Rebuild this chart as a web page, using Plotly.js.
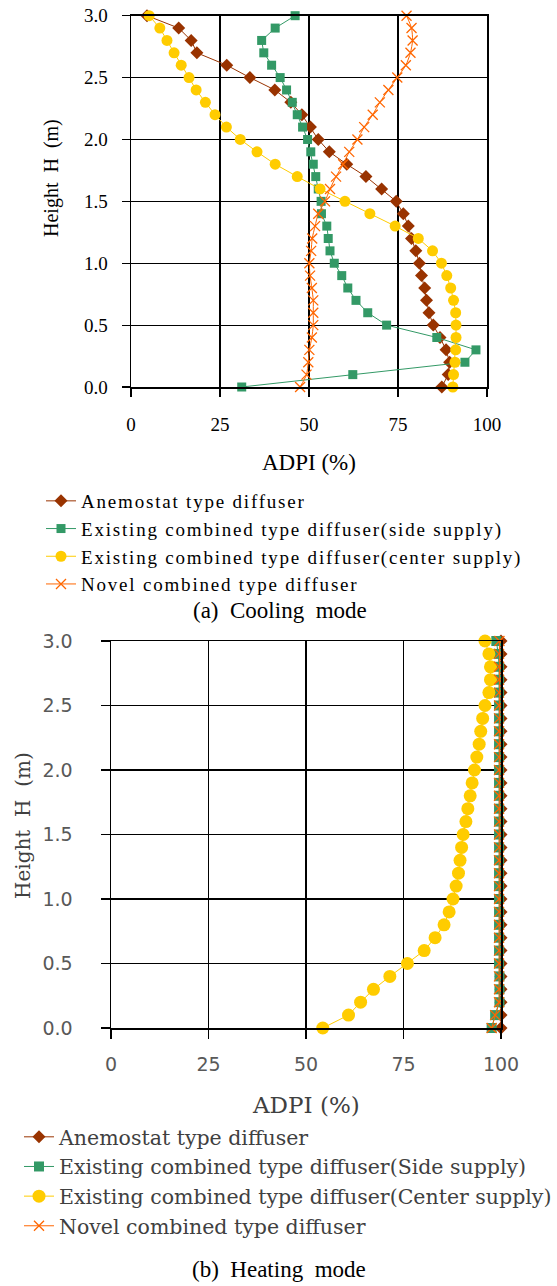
<!DOCTYPE html>
<html>
<head>
<meta charset="utf-8">
<script src="https://cdn.plot.ly/plotly-3.0.1.min.js"></script>
<style>
  html, body { margin: 0; padding: 0; background: #fff; }
  #chart { width: 557px; height: 1286px; }
  .legendtext { letter-spacing: 1.8px; }
</style>
</head>
<body>
<div id="chart"></div>
<script>
// Heights (m), bottom to top
const heights = [0.0,0.1,0.2,0.3,0.4,0.5,0.6,0.7,0.8,0.9,1.0,1.1,1.2,1.3,1.4,1.5,1.6,1.7,1.8,1.9,2.0,2.1,2.2,2.3,2.4,2.5,2.6,2.7,2.8,2.9,3.0];

const seriesNamesA = ["Anemostat type diffuser","Existing combined type diffuser(side supply)","Existing combined type diffuser(center supply)","Novel combined type diffuser"];
const seriesNamesB = ["Anemostat type diffuser","Existing combined type diffuser(Side supply)","Existing combined type diffuser(Center supply)","Novel combined type diffuser"];

// (a) Cooling mode – ADPI (%)
const coolAnemostat = [87.3,89.1,89.5,88.5,86.8,84.9,83.7,83.0,82.5,81.6,81.0,80.0,78.8,77.9,76.5,74.5,70.4,66.0,60.6,55.7,52.6,50.4,48.0,44.9,40.4,33.4,26.9,18.5,16.9,13.4,4.5];
const coolSide      = [31.1,62.3,93.8,96.9,85.9,71.8,66.5,63.2,60.9,59.2,57.1,55.9,55.4,55.0,53.5,53.4,52.6,51.9,51.2,50.5,49.6,48.2,46.7,45.3,43.7,41.9,39.5,37.3,36.7,40.5,46.1];
const coolCenter    = [90.4,90.6,91.0,91.2,91.3,91.3,91.2,90.6,89.8,88.7,87.2,84.7,80.7,74.2,67.1,60.1,53.1,46.7,40.5,35.4,30.7,26.8,23.6,20.9,18.3,16.3,14.1,12.1,10.1,8.1,5.1];
const coolNovel     = [47.5,49.3,49.8,50.1,50.8,51.2,51.2,51.2,50.8,50.3,50.1,50.6,50.9,51.7,52.6,54.5,55.9,57.6,59.6,61.3,63.6,65.5,67.9,69.9,72.3,74.8,77.2,78.5,79.1,78.8,77.4];

// (b) Heating mode – ADPI (%)
const heatAnemostat = [100,100,100,100,100,100,100,100,100,100,100,100,100,100,100,100,100,100,100,100,100,100,100,100,100,100,100,100,100,100,100];
const heatSide      = [97.6,98.5,99.6,99.6,99.6,99.5,99.5,99.5,99.5,99.5,99.5,99.5,99.5,99.5,99.5,99.5,99.5,99.5,99.5,99.5,99.5,99.5,99.5,99.5,99.5,99.5,99.5,99.5,99.5,99.3,98.8];
const heatCenter    = [54.3,60.9,64.0,67.3,71.5,76.0,80.3,83.1,85.4,86.7,87.7,88.5,89.1,89.5,89.9,90.3,91.0,91.5,92.1,92.6,93.2,93.8,94.4,94.8,95.3,95.9,96.9,97.3,97.3,96.9,95.9];
const heatNovel     = [97.6,98.5,99.5,99.5,99.5,99.5,99.5,99.5,99.5,99.5,99.5,99.5,99.5,99.5,99.5,99.5,99.5,99.5,99.5,99.5,99.5,99.5,99.5,99.5,99.5,99.5,99.5,99.5,99.5,99.5,99.6];

const xTicks = [0,25,50,75,100];
const yTicks = [0.0,0.5,1.0,1.5,2.0,2.5,3.0];

const BROWN = "#993300", GREEN = "#339966", YELLOW = "#FFCC00", ORANGE = "#FF6600";
const SERIF = "Liberation Serif";
const SERIF_B = "DejaVu Serif";
const SANS_B = "DejaVu Sans";

const W = 557, H = 1286;
const px = v => v / W;
const py = v => (H - v) / H;

function mk(x, name, color, symbol, size, xa, ya, lg, extra) {
  const t = {
    type: "scatter", mode: "lines+markers",
    x: x, y: heights, name: name,
    xaxis: xa, yaxis: ya, legend: lg,
    cliponaxis: false,
    line: {color: color, width: 1},
    marker: {color: color, symbol: symbol, size: size}
  };
  if (symbol === "x-thin") t.marker.line = {color: color, width: 1.3};
  return Object.assign(t, extra || {});
}

const data = [
  mk(coolAnemostat, seriesNamesA[0], BROWN, "diamond", 10, "x", "y", "legend"),
  mk(coolSide, seriesNamesA[1], GREEN, "square", 9, "x", "y", "legend"),
  mk(coolCenter, seriesNamesA[2], YELLOW, "circle", 11, "x", "y", "legend"),
  mk(coolNovel, seriesNamesA[3], ORANGE, "x-thin", 10, "x", "y", "legend", {line: {color: ORANGE, width: 1, shape: "spline", smoothing: 0.6}}),
  mk(heatAnemostat, seriesNamesB[0], BROWN, "diamond", 10, "x2", "y2", "legend2"),
  mk(heatSide, seriesNamesB[1], GREEN, "square", 10, "x2", "y2", "legend2"),
  mk(heatCenter, seriesNamesB[2], YELLOW, "circle", 13, "x2", "y2", "legend2"),
  mk(heatNovel, seriesNamesB[3], ORANGE, "x-thin", 10, "x2", "y2", "legend2")
];

function axisX(domain, anchor, font, color, standoff, ticklen) {
  return {
    domain: domain, anchor: anchor, range: [0, 100], tickvals: xTicks,
    showgrid: true, gridcolor: "#000", gridwidth: 1.2,
    showline: true, linecolor: "#000", linewidth: 1.5, mirror: true,
    ticks: "outside", ticklen: ticklen, tickcolor: "#000", tickwidth: 1.2,
    tickfont: {family: font, size: 19, color: color},
    ticklabelstandoff: standoff,
    zeroline: false, fixedrange: true
  };
}
function axisY(domain, anchor, font, color, standoff, ticklen) {
  return {
    domain: domain, anchor: anchor, range: [0, 3], tickvals: yTicks, tickformat: ".1f",
    showgrid: true, gridcolor: "#000", gridwidth: 1.2,
    showline: true, linecolor: "#000", linewidth: 1.5, mirror: true,
    ticks: "outside", ticklen: ticklen, tickcolor: "#000", tickwidth: 1.2,
    tickfont: {family: font, size: 19, color: color},
    ticklabelstandoff: standoff,
    zeroline: false, fixedrange: true
  };
}

const layout = {
  width: W, height: H,
  margin: {l: 0, r: 0, t: 0, b: 0},
  paper_bgcolor: "#fff", plot_bgcolor: "#fff",
  showlegend: true,
  xaxis: axisX([px(131), px(487)], "y", SERIF, "#000", 12, 8),
  yaxis: axisY([py(387), py(15.7)], "x", SERIF, "#000", 10, 8),
  xaxis2: axisX([px(111), px(501)], "y2", SANS_B, "#595959", 10, 9),
  yaxis2: axisY([py(1028), py(641)], "x2", SANS_B, "#595959", 24, 9),
  legend: {
    x: px(41), y: py(482), xanchor: "left", yanchor: "top",
    bgcolor: "rgba(0,0,0,0)", borderwidth: 0,
    font: {family: SERIF, size: 19, color: "#000"},
    traceorder: "normal", itemclick: false, itemdoubleclick: false
  },
  legend2: {
    x: px(20), y: py(1117), xanchor: "left", yanchor: "top",
    bgcolor: "rgba(0,0,0,0)", borderwidth: 0,
    font: {family: SERIF_B, size: 20.5, color: "#404040"},
    traceorder: "normal", itemclick: false, itemdoubleclick: false
  },
  annotations: [
    {text: "Height\u00A0 H\u00A0 (m)", xref: "paper", yref: "paper", x: px(52), y: py(178),
     xanchor: "center", yanchor: "middle", textangle: -90, showarrow: false,
     font: {family: SERIF, size: 20, color: "#000"}},
    {text: "ADPI (%)", xref: "paper", yref: "paper", x: px(309), y: py(462),
     xanchor: "center", yanchor: "middle", showarrow: false,
     font: {family: SERIF, size: 23, color: "#000"}},
    {text: "(a)\u00A0 Cooling\u00A0 mode", xref: "paper", yref: "paper", x: px(280), y: py(611),
     xanchor: "center", yanchor: "middle", showarrow: false,
     font: {family: SERIF, size: 23, color: "#000"}},
    {text: "Height\u00A0 H\u00A0 (m)", xref: "paper", yref: "paper", x: px(23), y: py(826),
     xanchor: "center", yanchor: "middle", textangle: -90, showarrow: false,
     font: {family: SERIF_B, size: 20, color: "#404040"}},
    {text: "ADPI (%)", xref: "paper", yref: "paper", x: px(306), y: py(1105),
     xanchor: "center", yanchor: "middle", showarrow: false,
     font: {family: SERIF_B, size: 23, color: "#404040"}},
    {text: "(b)\u00A0 Heating\u00A0 mode", xref: "paper", yref: "paper", x: px(279), y: py(1269),
     xanchor: "center", yanchor: "middle", showarrow: false,
     font: {family: SERIF, size: 23, color: "#000"}}
  ]
};

Plotly.newPlot("chart", data, layout, {displayModeBar: false, staticPlot: true});
</script>
</body>
</html>
